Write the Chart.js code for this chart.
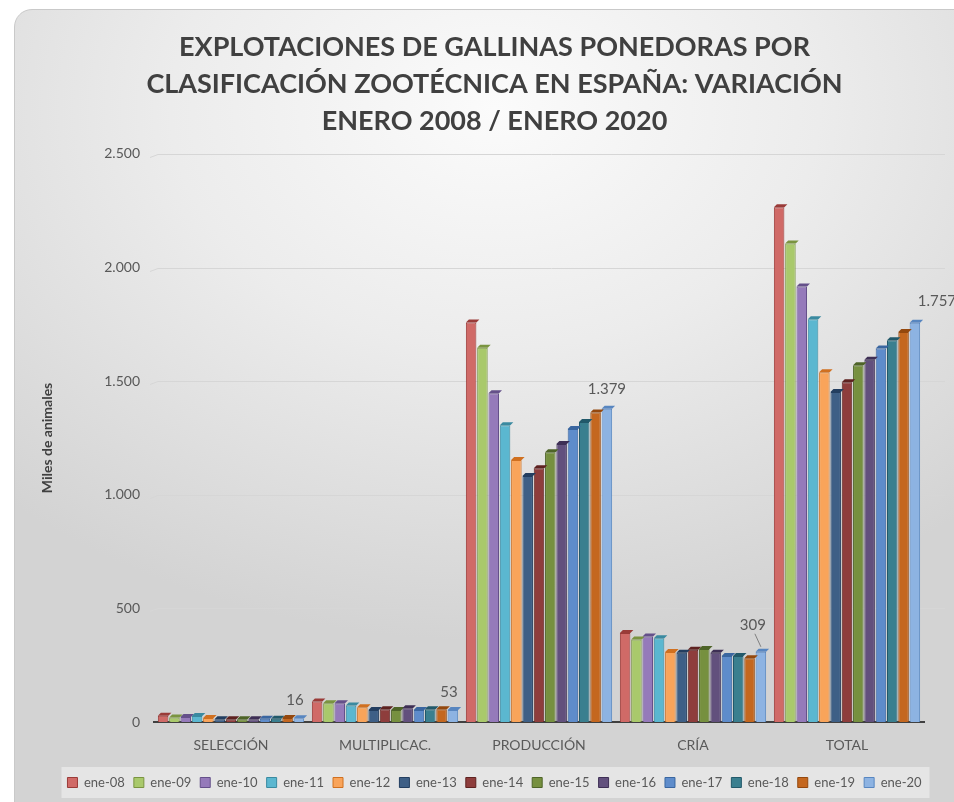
<!DOCTYPE html>
<html lang="es">
  <head>
    <meta charset="UTF-8" />
    <title>Explotaciones de gallinas ponedoras</title>
    <script src="https://cdn.jsdelivr.net/npm/chart.js"></script>
    <style>
      body {
        margin: 0;
        padding: 0;
        background-color: #fff;
        overflow: hidden;
      }
      .panel {
        position: absolute;
        left: 14px;
        top: 9px;
        width: 960px;
        height: 820px;
        border-radius: 18px;
        border: 1px solid #c9c9c9;
        background: radial-gradient(
          ellipse 75% 65% at 50% 12%,
          #fbfbfb 0%,
          #ececec 45%,
          #d3d3d3 100%
        );
      }
      #chartContainer {
        position: absolute;
        left: 0;
        top: 0;
        width: 954px;
        height: 802px;
      }
    </style>
  </head>
  <body>
    <div class="panel"></div>
    <div id="chartContainer">
      <canvas id="hensChart"></canvas>
    </div>

    <script>
      // categories on the x axis
      const categories = ["SELECCIÓN", "MULTIPLICAC.", "PRODUCCIÓN", "CRÍA", "TOTAL"];

      // one series per January, ene-08 ... ene-20
      const seriesLabels = [
        "ene-08", "ene-09", "ene-10", "ene-11", "ene-12", "ene-13", "ene-14",
        "ene-15", "ene-16", "ene-17", "ene-18", "ene-19", "ene-20",
      ];

      // values (miles de animales) per category, in series order
      const seleccion = [28, 20, 22, 26, 18, 12, 12, 12, 12, 14, 14, 18, 16];
      const multiplicac = [90, 82, 82, 73, 65, 53, 56, 53, 60, 53, 56, 56, 53];
      const produccion = [1758, 1647, 1447, 1306, 1153, 1083, 1117, 1187, 1223, 1289, 1320, 1362, 1379];
      const cria = [392, 363, 376, 369, 308, 305, 318, 321, 305, 291, 291, 281, 309];
      const total = [2266, 2106, 1917, 1773, 1539, 1452, 1495, 1570, 1594, 1644, 1680, 1716, 1757];

      const yTicks = [0, 500, 1000, 1500, 2000, 2500];

      const fillColors = [
        "#D06A67", "#A9C96B", "#957ABA", "#5BB7D0", "#F9A45A", "#3E5F86", "#8E3D3C",
        "#76903F", "#62507D", "#5E8CCB", "#3A7F8F", "#C4671F", "#8DB3E2",
      ];
      const edgeColors = [
        "#9A3B38", "#7A9440", "#65508A", "#3A8AA0", "#D07020", "#233E60", "#5E2220",
        "#4E6428", "#3E2F55", "#3A66A0", "#22596A", "#94480E", "#5886C0",
      ];

      const byCategory = [seleccion, multiplicac, produccion, cria, total];

      // spanish thousands separator: 1757 -> 1.757
      function fmt(v) {
        return String(v).replace(/\B(?=(\d{3})+(?!\d))/g, ".");
      }

      const FONT = "Lato, 'Open Sans', 'DejaVu Sans', sans-serif";

      // light legend box + gridlines that run a bit past the plot, like the 3D excel chart
      const backdrop = {
        id: "backdrop",
        beforeDatasetsDraw(chart) {
          const { ctx, chartArea, scales } = chart;
          ctx.save();
          ctx.strokeStyle = "#d6d6d6";
          ctx.lineWidth = 1;
          yTicks.forEach((t) => {
            if (t === 0) return;
            const y = Math.round(scales.y.getPixelForValue(t)) + 0.5;
            ctx.beginPath();
            ctx.moveTo(chartArea.left - 4, y + 3);
            ctx.lineTo(chartArea.left + 4, y);
            ctx.lineTo(chartArea.right + 21, y);
            ctx.stroke();
          });
          ctx.restore();
        },
        beforeDraw(chart) {
          const boxes = chart.legend && chart.legend.legendHitBoxes;
          if (!boxes || !boxes.length) return;
          const { ctx } = chart;
          const left = Math.min(...boxes.map((b) => b.left)) - 6;
          const right = Math.max(...boxes.map((b) => b.left + b.width)) + 8;
          const top = boxes[0].top - 9;
          ctx.save();
          ctx.fillStyle = "rgba(235,235,235,0.75)";
          ctx.fillRect(left, top, right - left, 31);
          ctx.restore();
        },
      };

      // small cap on top of every bar for the 3D look, plus the ene-20 value labels
      const barExtras = {
        id: "barExtras",
        afterDatasetsDraw(chart) {
          const { ctx } = chart;
          const d = 3;
          ctx.save();
          chart.data.datasets.forEach((ds, i) => {
            const meta = chart.getDatasetMeta(i);
            meta.data.forEach((bar) => {
              const half = bar.width / 2;
              ctx.fillStyle = edgeColors[i];
              ctx.beginPath();
              ctx.moveTo(bar.x - half, bar.y);
              ctx.lineTo(bar.x - half + d, bar.y - d);
              ctx.lineTo(bar.x + half + d, bar.y - d);
              ctx.lineTo(bar.x + half, bar.y);
              ctx.closePath();
              ctx.fill();
            });
          });

          const last = chart.data.datasets.length - 1;
          const meta = chart.getDatasetMeta(last);
          const offsets = [
            [-4, -18],
            [-4, -18],
            [0, -20],
            [-8, -27],
            [22, -22],
          ];
          ctx.fillStyle = "#595959";
          ctx.font = "15px " + FONT;
          ctx.textAlign = "center";
          ctx.textBaseline = "middle";
          meta.data.forEach((bar, j) => {
            const [dx, dy] = offsets[j];
            ctx.fillText(fmt(chart.data.datasets[last].data[j]), bar.x + dx, bar.y + dy);
          });
          // leader line for the CRÍA label
          const cb = meta.data[3];
          ctx.strokeStyle = "#7f7f7f";
          ctx.lineWidth = 1;
          ctx.beginPath();
          ctx.moveTo(cb.x - 6, cb.y - 18);
          ctx.lineTo(cb.x, cb.y - 5);
          ctx.stroke();
          ctx.restore();
        },
      };

      const datasets = seriesLabels.map((label, i) => ({
        label: label,
        data: byCategory.map((arr) => arr[i]),
        backgroundColor: fillColors[i],
        borderColor: edgeColors[i],
        borderWidth: 1,
        categoryPercentage: 0.955,
        barPercentage: 0.93,
      }));

      new Chart(document.getElementById("hensChart"), {
        type: "bar",
        data: { labels: categories, datasets: datasets },
        plugins: [backdrop, barExtras],
        options: {
          responsive: true,
          maintainAspectRatio: false,
          animation: false,
          layout: { padding: { left: 35, right: 0, top: 10, bottom: 3 } },
          scales: {
            x: {
              grid: { display: false },
              border: { color: "#404040", width: 2 },
              ticks: {
                color: "#595959",
                font: { family: FONT, size: 14 },
                padding: 7,
              },
              afterFit: (s) => {
                s.height = 45;
              },
            },
            y: {
              min: 0,
              max: 2500,
              grid: { display: false },
              border: { display: false },
              afterBuildTicks: (s) => {
                s.ticks = yTicks.map((v) => ({ value: v }));
              },
              ticks: {
                color: "#595959",
                font: { family: FONT, size: 14 },
                padding: 6,
                callback: (v) => fmt(v),
              },
              title: {
                display: true,
                text: "Miles de animales",
                color: "#404040",
                font: { family: FONT, size: 14, weight: "bold" },
                padding: { top: 4, bottom: 0 },
              },
              afterFit: (s) => {
                s.width = 119;
              },
            },
            yRight: {
              position: "right",
              display: true,
              grid: { display: false },
              border: { display: false },
              ticks: { display: false },
              afterFit: (s) => {
                s.width = 30;
              },
            },
          },
          plugins: {
            title: {
              display: true,
              text: [
                "EXPLOTACIONES DE GALLINAS PONEDORAS POR",
                "CLASIFICACIÓN ZOOTÉCNICA EN ESPAÑA: VARIACIÓN",
                "ENERO 2008 / ENERO 2020",
              ],
              color: "#404040",
              font: { family: FONT, size: 27, weight: "bold", lineHeight: 1.37 },
              padding: { top: 19, bottom: 14 },
            },
            legend: {
              position: "bottom",
              labels: {
                color: "#595959",
                font: { family: FONT, size: 13 },
                boxWidth: 10,
                boxHeight: 10,
                padding: 9,
              },
            },
            tooltip: { enabled: false },
          },
        },
      });
    </script>
  </body>
</html>
